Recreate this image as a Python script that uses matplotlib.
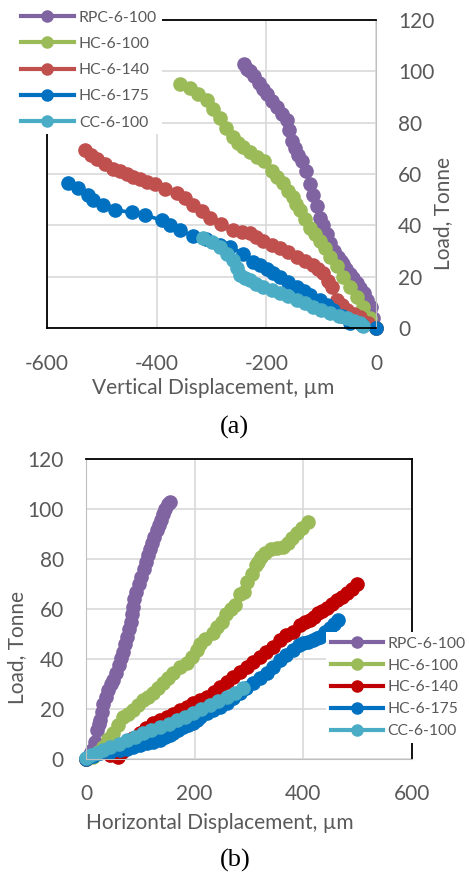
import matplotlib
matplotlib.use("Agg")
import matplotlib.pyplot as plt
import numpy as np

plt.rcParams['font.family'] = ['Lato', 'DejaVu Sans']
plt.rcParams['axes.unicode_minus'] = False

W, H = 469, 873

labels = ['RPC-6-100', 'HC-6-100', 'HC-6-140', 'HC-6-175', 'CC-6-100']
colors_a = ['#8064A2', '#9BBB59', '#C0504D', '#0070C0', '#4BACC6']
colors_b = ['#8064A2', '#9BBB59', '#C00000', '#0070C0', '#4BACC6']

# (a) vertical displacement (um) vs load (tonne)
va_rpc_x = [-241, -236, -230, -222, -214, -206, -198, -190, -181, -172, -163, -158, -153, -148,
            -143, -135, -128, -120, -114, -108, -102, -96, -90, -84, -77, -70, -64, -60, -54,
            -48, -42, -35, -29, -22, -16, -10, -5, 0]
va_rpc_y = [103, 101, 100, 98, 95.5, 93, 91, 88.5, 86, 83.5, 81, 77, 73, 70, 67.5, 65, 61, 56,
            52, 47.5, 43, 40, 36.5, 33, 30, 27.5, 26, 25, 23, 21, 19.5, 17.5, 15.5, 13.5, 11, 8, 4, 0]
va_hc100_x = [-358, -340, -325, -309, -297, -285, -273, -261, -252, -243, -230, -217, -205, -190,
              -181, -170, -160, -151, -145, -139, -130, -120, -111, -102, -93, -84, -72, -60,
              -48, -35, -23, -11, 0]
va_hc100_y = [95, 93.5, 91, 89, 85.5, 82, 78, 74.5, 72, 70.6, 68.5, 66.6, 65, 61, 59, 56.5, 53.5,
              51, 48.5, 46, 42.5, 39, 36.5, 34, 31, 27.7, 24, 20, 16, 12, 8, 4, 0]
va_hc140_x = [-531, -520, -509, -495, -480, -467, -454, -443, -431, -417, -403, -385, -363, -348,
              -334, -318, -303, -282, -261, -245, -230, -218, -206, -190, -175, -160, -144,
              -130, -115, -106, -97, -88, -80, -71, -62, -53, -41, -29, -15, 0]
va_hc140_y = [69.3, 67.5, 66, 64, 62, 61, 60, 59, 58, 57, 56, 54, 52.6, 50.5, 48, 45.5, 43, 40.5,
              38, 37.5, 37, 35.5, 34, 32.5, 31, 29.5, 27.7, 26, 24.5, 23, 21.4, 18.5, 16, 11,
              9, 7, 5.5, 4.3, 2, 0]
va_hc175_x = [-562, -544, -525, -516, -498, -476, -445, -421, -391, -376, -358, -334, -310, -285,
              -266, -243, -224, -212, -199, -187, -175, -160, -144, -132, -120, -102, -90, -78,
              -62, -47, -25, 0]
va_hc175_y = [56.5, 54.5, 52, 50, 48, 46, 45, 44, 42, 40, 38, 36, 34.5, 32.5, 31.6, 29, 25.7,
              24.5, 23, 21.5, 20, 18, 16, 14.5, 12.8, 11, 9, 7, 4.5, 2, 1, 0]
va_cc_x = [-316, -300, -285, -272, -261, -254, -248, -239, -230, -218, -206, -190, -175, -160,
           -144, -130, -115, -100, -84, -68, -53, -41, -29, -24]
va_cc_y = [35, 33.5, 31.6, 29, 26.5, 23.5, 20.5, 19.5, 18.7, 17.3, 16, 14.8, 13.6, 12.3, 11,
           9.6, 8.2, 7, 5.8, 4.8, 3.9, 2.9, 1.9, 0.6]

# (b) horizontal displacement (um) vs load (tonne)
hb_rpc_x = [0, 8, 11, 16, 20, 24, 26, 30, 32, 37, 41, 46, 50, 55, 60, 64, 68, 72, 76, 80, 83,
            85, 86, 88, 92, 97, 101, 106, 110, 114, 118, 122, 126, 130, 134, 138, 142, 146, 150, 155]
hb_rpc_y = [0, 2, 3.6, 7, 11.6, 14, 15.6, 19, 22, 25, 27.5, 30, 31.6, 34.5, 37.5, 40.5, 43, 46,
            49, 52, 55, 58, 61, 64, 67, 70, 73, 76, 79, 81.5, 84, 86.5, 89, 91.5, 93.5, 95.5,
            98, 100, 102, 103]
hb_hc100_x = [0, 13, 22, 31, 40, 50, 59, 68, 78, 87, 96, 105, 114, 124, 133, 142, 151, 160, 173,
              186, 195, 204, 210, 219, 234, 241, 250, 258, 266, 274, 283, 290, 297, 305, 312,
              317, 322, 329, 340, 351, 362, 372, 380, 388, 398, 408]
hb_hc100_y = [0, 1, 3, 5, 8, 10.4, 13.5, 16.8, 18, 19.6, 21.5, 23.6, 25, 26.4, 28.5, 30.4, 32.5,
              34.4, 37, 38.4, 41, 43.6, 46, 48, 50.4, 53, 55, 58, 60, 61.5, 66, 67, 71, 74,
              77.5, 79, 81, 82.4, 84, 84.4, 85, 86.5, 88.5, 90.4, 92.5, 95]
hb_hc140_x = [0, 15, 31, 45, 59, 66, 75, 87, 99, 111, 123, 136, 149, 161, 173, 185, 197, 210,
              223, 235, 247, 259, 271, 284, 296, 308, 320, 332, 344, 357, 369, 381, 394, 403,
              412, 420, 427, 435, 443, 452, 462, 471, 480, 490, 499]
hb_hc140_y = [0, 1.5, 2.8, 1.5, 0.8, 3, 6.4, 8.5, 10.4, 12.5, 14.4, 15.6, 16.8, 18.2, 19.6, 21,
              22.4, 23.5, 24.8, 26.8, 28.8, 30.8, 32.8, 34.8, 36.8, 38.8, 40.8, 42.8, 44.8,
              47.6, 49.5, 50.8, 53.6, 54.8, 55.6, 57, 58.4, 59.4, 60.4, 62, 63.6, 65, 66.4,
              68.2, 70]
hb_hc175_x = [0, 13, 26, 45, 63, 75, 87, 100, 112, 124, 136, 145, 155, 160, 170, 178, 188, 197,
              204, 210, 223, 234, 246, 259, 271, 283, 295, 307, 320, 333, 345, 357, 369, 381,
              392, 400, 409, 418, 425, 431, 440, 449, 456, 464]
hb_hc175_y = [0, 1.2, 2.4, 3, 3.6, 4.2, 4.8, 5.6, 6.4, 7, 7.6, 9, 9.6, 10.4, 11.5, 12.8, 13.6,
              14.4, 15.5, 16.8, 18.4, 19.6, 21, 22.4, 24.4, 26.4, 28.4, 30.4, 32.4, 34.4, 37,
              39.6, 41.5, 43.6, 45.5, 46.4, 47, 47.6, 48.5, 49, 51, 52.4, 54, 55.6]
hb_cc_x = [0, 10, 20, 32, 44, 60, 75, 90, 105, 120, 136, 152, 167, 182, 197, 212, 228, 243,
           259, 274, 289]
hb_cc_y = [0.5, 1.5, 2.4, 3.6, 4.8, 6.2, 7.6, 9, 10.4, 11.6, 12.8, 14.2, 15.6, 17, 18.4, 20,
           21.6, 23.2, 24.8, 26.6, 28.4]

series_a = [(va_rpc_x, va_rpc_y), (va_hc100_x, va_hc100_y), (va_hc140_x, va_hc140_y),
            (va_hc175_x, va_hc175_y), (va_cc_x, va_cc_y)]
series_b = [(hb_rpc_x, hb_rpc_y), (hb_hc100_x, hb_hc100_y), (hb_hc140_x, hb_hc140_y),
            (hb_hc175_x, hb_hc175_y), (hb_cc_x, hb_cc_y)]

TXT = '#595959'
GRID = '#D9D9D9'


def px_axes(fig, l, t, r, b):
    return fig.add_axes([l / W, 1 - b / H, (r - l) / W, (b - t) / H])


def ftext(fig, x, y, s, **kw):
    fig.text(x / W, 1 - y / H, s, ha='center', va='center', **kw)


def style_legend(leg):
    for t in leg.get_texts():
        t.set_color(TXT)
    for h in leg.legend_handles:
        h.set_markersize(8)
        h.set_linewidth(3)
    leg.set_zorder(10)


fig = plt.figure(figsize=(W / 100, H / 100), dpi=100)

# ---- (a)
ax = px_axes(fig, 47, 20, 376, 328)
for (x, y), c, lab in zip(series_a, colors_a, labels):
    ax.plot(x, y, '-o', color=c, lw=2.6, ms=9.5, label=lab, clip_on=False)
ax.set_xlim(-600, 0)
ax.set_ylim(0, 120)
ax.set_xticks([-600, -400, -200, 0])
ax.set_yticks(range(0, 121, 20))
ax.yaxis.tick_right()
ax.grid(True, color=GRID, lw=1.2)
ax.set_axisbelow(True)
ax.tick_params(length=0, labelsize=15, labelcolor=TXT)
ax.tick_params(axis='x', pad=19)
ax.tick_params(axis='y', pad=16)
for s in ['top', 'left', 'bottom']:
    ax.spines[s].set_color('black')
    ax.spines[s].set_linewidth(1.3)
ax.spines['right'].set_color('#BFBFBF')
leg = ax.legend(loc='upper left', bbox_to_anchor=(16 / W, 1 - 6 / H), bbox_transform=fig.transFigure,
                frameon=True, fancybox=False, edgecolor='none', facecolor='white', framealpha=1,
                fontsize=11.3, handlelength=3.4, labelspacing=0.78, handletextpad=0.3,
                borderpad=0.3, borderaxespad=0)
style_legend(leg)
ftext(fig, 213, 388, 'Vertical Displacement, µm', fontsize=15, color=TXT)
ftext(fig, 443, 213, 'Load, Tonne', fontsize=15, color=TXT, rotation=90)
ftext(fig, 234, 427, '(a)', fontsize=19, family='Liberation Serif', color='black')

# ---- (b)
bx = px_axes(fig, 86, 459, 412, 759)
for (x, y), c, lab in zip(series_b, colors_b, labels):
    bx.plot(x, y, '-o', color=c, lw=2.6, ms=9.5, label=lab, clip_on=False)
bx.set_xlim(0, 600)
bx.set_ylim(0, 120)
bx.set_xticks([0, 200, 400, 600])
bx.set_yticks(range(0, 121, 20))
bx.grid(True, color=GRID, lw=1.2)
bx.set_axisbelow(True)
bx.tick_params(length=0, labelsize=15, labelcolor=TXT)
bx.tick_params(axis='x', pad=18)
bx.tick_params(axis='y', pad=16)
for s in ['top', 'right']:
    bx.spines[s].set_color('black')
    bx.spines[s].set_linewidth(1.3)
for s in ['left', 'bottom']:
    bx.spines[s].set_color('#BFBFBF')
leg = bx.legend(loc='upper left', bbox_to_anchor=(326 / W, 1 - 632 / H), bbox_transform=fig.transFigure,
                frameon=True, fancybox=False, edgecolor='none', facecolor='white', framealpha=1,
                fontsize=11.3, handlelength=3.3, labelspacing=0.5, handletextpad=0.3,
                borderpad=0.3, borderaxespad=0)
style_legend(leg)
ftext(fig, 220, 823, 'Horizontal Displacement, µm', fontsize=15, color=TXT)
ftext(fig, 17, 648, 'Load, Tonne', fontsize=15, color=TXT, rotation=90)
ftext(fig, 235, 860, '(b)', fontsize=19, family='Liberation Serif', color='black')

fig.savefig('out.png', dpi=100)
